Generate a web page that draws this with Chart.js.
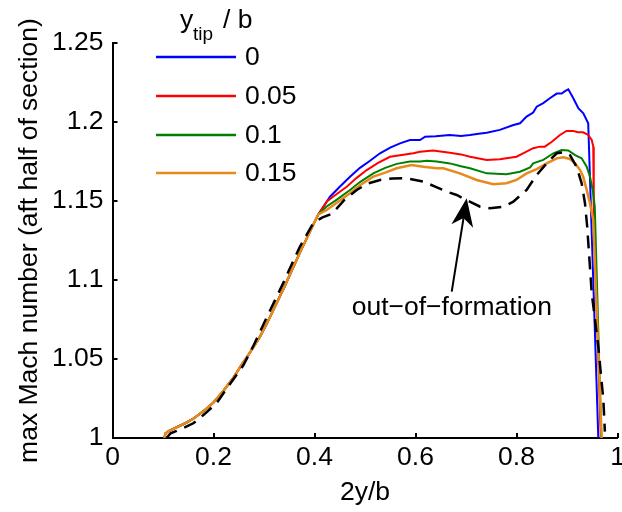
<!DOCTYPE html>
<html><head><meta charset="utf-8">
<script src="https://cdn.jsdelivr.net/npm/chart.js@4/dist/chart.umd.min.js"></script>
<style>html,body{margin:0;padding:0;background:#fff}canvas{display:block}</style>
</head><body>
<canvas id="c" width="622" height="512"></canvas>
<script>
// ---- data ----
const xTicks = [0, 0.2, 0.4, 0.6, 0.8, 1];
const xTickLabels = ['0', '0.2', '0.4', '0.6', '0.8', '1'];
const yTicks = [1, 1.05, 1.1, 1.15, 1.2, 1.25];
const yTickLabels = ['1', '1.05', '1.1', '1.15', '1.2', '1.25'];
const legendLabels = ['0', '0.05', '0.1', '0.15'];

// shared rise (all y_tip/b series coincide here)
const commonX = [0.1026, 0.105, 0.112, 0.127, 0.145, 0.16, 0.18, 0.2, 0.22, 0.239, 0.255, 0.27, 0.29, 0.305, 0.32, 0.338, 0.355, 0.372, 0.39, 0.4075];
const commonY = [1.000, 1.003, 1.0045, 1.0068, 1.0095, 1.0122, 1.017, 1.0225, 1.030, 1.038, 1.046, 1.053, 1.063, 1.072, 1.082, 1.094, 1.106, 1.118, 1.130, 1.1415];

const tip0X = [0.42, 0.4307, 0.45, 0.4703, 0.49, 0.51, 0.5297, 0.55, 0.5693, 0.589, 0.609, 0.619, 0.64, 0.668, 0.69, 0.708, 0.725, 0.741, 0.767, 0.794, 0.807, 0.82, 0.833, 0.84, 0.853, 0.866, 0.8796, 0.8895, 0.896, 0.9026, 0.9125, 0.9224, 0.9323, 0.942, 0.962];
const tip0Y = [1.1475, 1.1527, 1.159, 1.1654, 1.171, 1.1755, 1.1802, 1.1838, 1.1865, 1.1886, 1.1886, 1.1907, 1.191, 1.1918, 1.1912, 1.1918, 1.1925, 1.1932, 1.195, 1.1981, 1.1992, 1.2034, 1.206, 1.2097, 1.212, 1.215, 1.218, 1.218, 1.2195, 1.2207, 1.215, 1.2087, 1.2055, 1.1992, 1.0];

const tip05X = [0.424, 0.44, 0.4638, 0.483, 0.5034, 0.525, 0.5495, 0.5693, 0.5956, 0.609, 0.635, 0.668, 0.69, 0.708, 0.741, 0.767, 0.78, 0.80, 0.815, 0.833, 0.846, 0.856, 0.87, 0.886, 0.899, 0.9125, 0.922, 0.932, 0.942, 0.949, 0.952, 0.953, 0.967];
const tip05Y = [1.1496, 1.1535, 1.159, 1.1645, 1.1696, 1.174, 1.178, 1.179, 1.1802, 1.1812, 1.182, 1.1806, 1.1795, 1.178, 1.176, 1.1764, 1.177, 1.178, 1.1805, 1.1834, 1.1844, 1.1844, 1.1875, 1.1918, 1.1943, 1.1943, 1.1935, 1.1935, 1.1918, 1.1886, 1.1844, 1.14, 1.0];

const tip10X = [0.424, 0.445, 0.4703, 0.49, 0.5164, 0.54, 0.5628, 0.589, 0.609, 0.622, 0.642, 0.668, 0.69, 0.708, 0.741, 0.78, 0.807, 0.827, 0.833, 0.853, 0.873, 0.8895, 0.9026, 0.916, 0.929, 0.939, 0.9455, 0.951, 0.955, 0.968];
const tip10Y = [1.1465, 1.151, 1.157, 1.162, 1.1675, 1.171, 1.1735, 1.175, 1.175, 1.1755, 1.175, 1.1738, 1.172, 1.1707, 1.1675, 1.1669, 1.1685, 1.1713, 1.1738, 1.176, 1.1802, 1.1823, 1.182, 1.179, 1.177, 1.1717, 1.1654, 1.157, 1.1464, 1.0];

const tip15X = [0.424, 0.445, 0.4703, 0.49, 0.5164, 0.54, 0.5628, 0.592, 0.6155, 0.642, 0.655, 0.688, 0.721, 0.754, 0.78, 0.80, 0.82, 0.84, 0.86, 0.8796, 0.8927, 0.906, 0.916, 0.926, 0.932, 0.939, 0.9455, 0.952, 0.9687];
const tip15Y = [1.1443, 1.149, 1.1549, 1.160, 1.1654, 1.168, 1.1707, 1.1728, 1.1717, 1.1707, 1.1707, 1.1675, 1.1633, 1.1606, 1.1612, 1.1633, 1.1675, 1.1702, 1.1738, 1.177, 1.1777, 1.1766, 1.1738, 1.1696, 1.1654, 1.157, 1.1486, 1.138, 1.0];

const oofX = [0.107, 0.115, 0.127, 0.145, 0.16, 0.18, 0.206, 0.23, 0.259, 0.28, 0.305, 0.32, 0.338, 0.355, 0.371, 0.3976, 0.415, 0.435, 0.46, 0.4836, 0.505, 0.53, 0.555, 0.5826, 0.6155, 0.64, 0.662, 0.6816, 0.701, 0.728, 0.7475, 0.774, 0.7937, 0.82, 0.84, 0.863, 0.8796, 0.895, 0.906, 0.919, 0.929, 0.9356, 0.94, 0.949, 0.962, 0.972, 0.975];
const oofY = [1.0, 1.003, 1.0045, 1.007, 1.0093, 1.0145, 1.022, 1.033, 1.046, 1.059, 1.076, 1.086, 1.098, 1.110, 1.121, 1.136, 1.1395, 1.142, 1.151, 1.157, 1.161, 1.1633, 1.1643, 1.1644, 1.1623, 1.159, 1.1559, 1.1538, 1.1506, 1.1464, 1.1454, 1.1464, 1.1496, 1.157, 1.1665, 1.175, 1.1802, 1.181, 1.179, 1.1717, 1.1612, 1.1486, 1.1337, 1.0916, 1.0578, 1.024, 1.004];

// annotation anchor (data coordinates)
const annotText = 'out\u2212of\u2212formation';
const annotTextPos = [0.672, 1.0778];
const arrowTail = [0.6717, 1.0926];
const arrowTip = [0.7014, 1.1517];

// ---- build ----
const pts = (xs, ys) => xs.map((v, i) => ({x: v, y: ys[i]}));
const withCommon = (xs, ys) => pts(commonX, commonY).concat(pts(xs, ys));
const FONT = '"Liberation Sans", Arial, Helvetica, sans-serif';
const FS = 26.5;
const colors = ['#0000ff', '#ff0000', '#008000', '#e8891a'];

const datasets = [
  {label: legendLabels[0], data: withCommon(tip0X, tip0Y), borderColor: colors[0], order: 4},
  {label: legendLabels[1], data: withCommon(tip05X, tip05Y), borderColor: colors[1], order: 3},
  {label: legendLabels[2], data: withCommon(tip10X, tip10Y), borderColor: colors[2], order: 2},
  {label: legendLabels[3], data: withCommon(tip15X, tip15Y), borderColor: colors[3], order: 1, borderWidth: 2.5},
  {label: 'out-of-formation', data: pts(oofX, oofY), borderColor: '#000', borderDash: [13, 8], borderWidth: 2.5, order: 0}
].map(d => Object.assign({borderWidth: 2, pointRadius: 0, tension: 0, fill: false}, d));

const extras = {
  id: 'extras',
  afterDraw(chart) {
    const {ctx} = chart;
    const xs = chart.scales.x, ys = chart.scales.y;
    const ca = chart.chartArea;
    ctx.save();
    // inward tick marks
    ctx.strokeStyle = '#000';
    ctx.lineWidth = 2;
    xTicks.forEach(v => {
      const px = Math.round(xs.getPixelForValue(v));
      ctx.beginPath(); ctx.moveTo(px, ca.bottom); ctx.lineTo(px, ca.bottom - 5); ctx.stroke();
    });
    yTicks.forEach(v => {
      const py = Math.round(ys.getPixelForValue(v));
      ctx.beginPath(); ctx.moveTo(ca.left, py); ctx.lineTo(ca.left + 5, py); ctx.stroke();
    });
    // legend
    ctx.fillStyle = '#000';
    ctx.textBaseline = 'alphabetic';
    ctx.textAlign = 'left';
    ctx.font = FS + 'px ' + FONT;
    ctx.fillText('y', 180, 28);
    ctx.font = '19px ' + FONT;
    ctx.fillText('tip', 193, 40);
    ctx.font = FS + 'px ' + FONT;
    ctx.fillText('/ b', 223, 28);
    const rows = [57, 96, 135, 173];
    legendLabels.forEach((lab, i) => {
      ctx.strokeStyle = colors[i];
      ctx.lineWidth = 2.5;
      ctx.beginPath(); ctx.moveTo(156, rows[i]); ctx.lineTo(236, rows[i]); ctx.stroke();
      ctx.fillStyle = '#000';
      ctx.textBaseline = 'middle';
      ctx.font = FS + 'px ' + FONT;
      ctx.fillText(lab, 245, rows[i] + 1);
    });
    // annotation text
    ctx.textAlign = 'center';
    ctx.textBaseline = 'alphabetic';
    ctx.fillText(annotText, xs.getPixelForValue(annotTextPos[0]), ys.getPixelForValue(annotTextPos[1]));
    // arrow
    const tx = xs.getPixelForValue(arrowTip[0]), ty = ys.getPixelForValue(arrowTip[1]);
    const sx = xs.getPixelForValue(arrowTail[0]), sy = ys.getPixelForValue(arrowTail[1]);
    const len = Math.hypot(tx - sx, ty - sy);
    const dx = (tx - sx) / len, dy = (ty - sy) / len;
    const nx = -dy, ny = dx;
    const L = 28, W = 11, notch = 8;
    ctx.strokeStyle = '#000';
    ctx.lineWidth = 2;
    ctx.beginPath(); ctx.moveTo(sx, sy); ctx.lineTo(tx - dx * (L - notch), ty - dy * (L - notch)); ctx.stroke();
    ctx.beginPath();
    ctx.moveTo(tx, ty);
    ctx.lineTo(tx - dx * L + nx * W, ty - dy * L + ny * W);
    ctx.lineTo(tx - dx * (L - notch), ty - dy * (L - notch));
    ctx.lineTo(tx - dx * L - nx * W, ty - dy * L - ny * W);
    ctx.closePath();
    ctx.fillStyle = '#000';
    ctx.fill();
    ctx.restore();
  }
};

new Chart(document.getElementById('c'), {
  type: 'line',
  data: {datasets},
  plugins: [extras],
  options: {
    responsive: false,
    animation: false,
    events: [],
    layout: {padding: {top: 43, right: 4.5, left: 0, bottom: 0}},
    plugins: {legend: {display: false}, tooltip: {enabled: false}},
    scales: {
      x: {
        type: 'linear', min: 0, max: 1,
        afterBuildTicks: s => { s.ticks = xTicks.map(v => ({value: v})); },
        afterFit: s => { s.height = 74; s.paddingLeft = 0; s.paddingRight = 0; },
        grid: {display: false, drawTicks: false},
        border: {display: true, color: '#000', width: 2},
        ticks: {color: '#000', padding: 4, maxRotation: 0, autoSkip: false,
          font: {family: FONT, size: FS},
          callback: (v, i) => xTickLabels[i]},
        title: {display: true, text: '2y/b', color: '#000', font: {family: FONT, size: FS},
          padding: {top: 0, bottom: 3}}
      },
      y: {
        type: 'linear', min: 1, max: 1.25,
        afterBuildTicks: s => { s.ticks = yTicks.map(v => ({value: v})); },
        afterFit: s => { s.width = 112.5; s.paddingTop = 0; s.paddingBottom = 0; },
        grid: {display: false, drawTicks: false},
        border: {display: true, color: '#000', width: 2},
        ticks: {color: '#000', padding: 9, autoSkip: false,
          font: {family: FONT, size: FS},
          callback: (v, i) => yTickLabels[i]},
        title: {display: true, text: 'max Mach number (aft half of section)', color: '#000',
          font: {family: FONT, size: FS}, padding: {top: 14, bottom: 0}}
      }
    }
  }
});
</script>
</body></html>
